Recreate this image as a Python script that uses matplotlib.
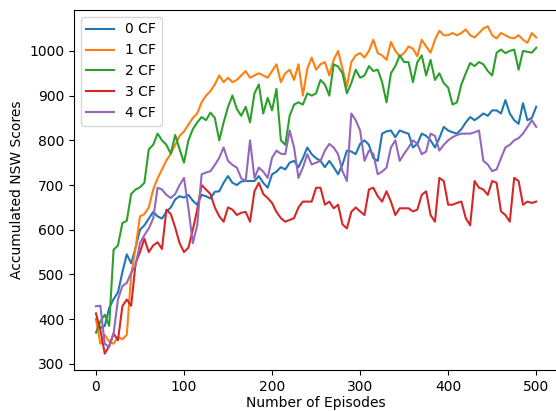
import numpy as np
import matplotlib
matplotlib.use('Agg')
import matplotlib.pyplot as plt

# episodes sampled every 5 steps
episodes = list(range(0, 501, 5))

cf0 = [400, 380, 385, 425, 445, 460, 505, 545, 525, 560, 600, 610, 625, 640, 630, 625, 640, 650, 668, 675,
       672, 678, 665, 656, 678, 675, 670, 685, 686, 705, 720, 705, 700, 708, 709, 709, 709, 720, 705, 694,
       724, 730, 740, 735, 750, 754, 740, 760, 784, 769, 760, 754, 740, 754, 740, 724, 746, 777, 775, 769,
       792, 800, 790, 760, 754, 815, 820, 822, 807, 822, 818, 815, 784, 792, 815, 810, 800, 784, 805, 830,
       822, 818, 815, 825, 840, 852, 845, 852, 860, 855, 867, 867, 860, 890, 860, 845, 837, 883, 845, 850,
       875]
cf1 = [400, 345, 365, 350, 345, 360, 355, 365, 500, 560, 630, 635, 650, 690, 715, 735, 755, 770, 790, 810,
       820, 835, 850, 860, 885, 900, 910, 925, 945, 930, 940, 930, 935, 945, 955, 940, 945, 950, 945, 940,
       955, 970, 930, 950, 958, 935, 970, 900, 960, 985, 958, 970, 975, 945, 980, 1000, 960, 920, 975, 990,
       995, 985, 1000, 1025, 995, 990, 980, 1020, 1000, 988, 995, 1010, 1005, 988, 1025, 1010, 996, 1025, 1045, 1035,
       1035, 1040, 1035, 1040, 1048, 1035, 1030, 1040, 1050, 1055, 1035, 1028, 1040, 1035, 1030, 1028, 1035, 1025, 1018, 1040,
       1030]
cf2 = [370, 395, 410, 385, 555, 565, 615, 620, 680, 690, 695, 705, 780, 790, 815, 800, 790, 770, 812, 780,
       750, 800, 825, 840, 852, 845, 862, 850, 800, 840, 875, 900, 870, 855, 875, 840, 905, 925, 860, 895,
       867, 915, 800, 790, 855, 880, 885, 880, 905, 900, 905, 935, 925, 900, 970, 965, 950, 905, 928, 958,
       940, 945, 966, 955, 958, 930, 885, 950, 966, 990, 975, 975, 930, 975, 990, 945, 980, 935, 950, 928,
       918, 880, 885, 925, 950, 973, 966, 975, 970, 955, 945, 996, 1003, 995, 1000, 1003, 958, 1000, 998, 996,
       1007]
cf3 = [413, 376, 323, 340, 368, 353, 429, 444, 430, 525, 550, 580, 550, 565, 572, 557, 645, 635, 605, 570,
       550, 560, 600, 645, 700, 690, 680, 650, 630, 618, 650, 645, 633, 638, 640, 618, 686, 705, 680, 671,
       660, 640, 626, 618, 622, 626, 650, 663, 663, 663, 694, 694, 656, 663, 648, 656, 612, 603, 640, 650,
       641, 633, 690, 694, 675, 663, 686, 663, 633, 648, 648, 648, 641, 645, 678, 686, 633, 618, 716, 709,
       656, 656, 660, 663, 626, 610, 709, 694, 690, 678, 709, 705, 641, 633, 618, 716, 709, 656, 663, 660,
       663]
cf4 = [429, 430, 345, 338, 368, 444, 474, 481, 504, 520, 570, 588, 603, 625, 694, 690, 678, 671, 680, 700,
       716, 648, 570, 610, 724, 728, 731, 745, 761, 784, 754, 745, 739, 715, 709, 800, 716, 739, 730, 716,
       761, 777, 770, 769, 822, 784, 716, 739, 769, 746, 750, 754, 777, 792, 784, 769, 731, 709, 860, 845,
       822, 754, 777, 770, 724, 730, 739, 784, 800, 754, 770, 784, 800, 792, 769, 775, 815, 810, 777, 790,
       800, 807, 812, 815, 815, 815, 818, 822, 754, 746, 731, 735, 760, 784, 790, 800, 805, 815, 830, 845,
       830]

labels = ['0 CF', '1 CF', '2 CF', '3 CF', '4 CF']
series = [cf0, cf1, cf2, cf3, cf4]

fig = plt.figure(figsize=(5.56, 4.11), dpi=100)
ax = fig.add_axes([0.133, 0.0998, 0.871, 0.876])

for vals, lab in zip(series, labels):
    ax.plot(episodes, vals, label=lab)

ax.set_xlabel('Number of Episodes', labelpad=2)
ax.set_ylabel('Accumulated NSW Scores')
ax.legend(loc='upper left')

fig.savefig('out.png', dpi=100)
